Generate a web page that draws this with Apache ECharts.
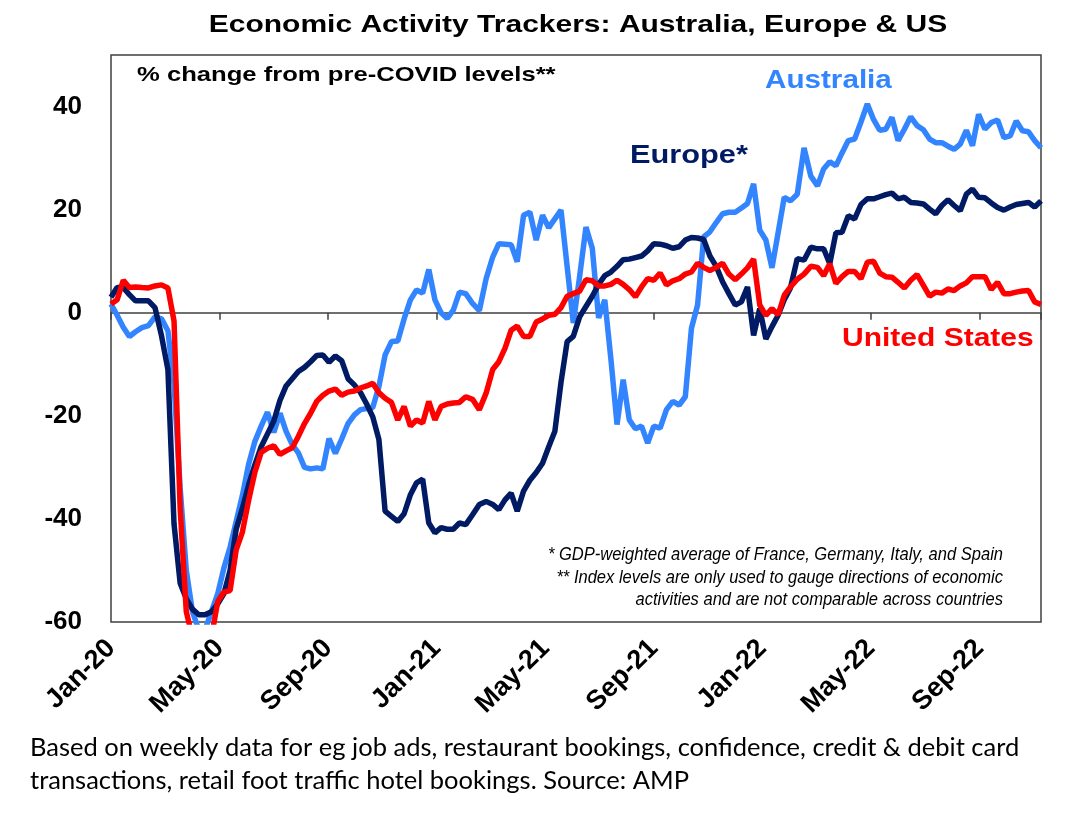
<!DOCTYPE html>
<html>
<head>
<meta charset="utf-8">
<script src="https://cdn.jsdelivr.net/npm/echarts@6/dist/echarts.min.js"></script>
<style>
  html, body { margin: 0; padding: 0; background: #fff; }
  #chart { width: 1070px; height: 816px; }
</style>
</head>
<body>
<div id="chart"></div>
<script>
// Weekly readings, first week starting 1 Jan 2020
const firstWeek = '2020-01-01';

const australia = [
  1.7, -0.5, -2.8, -4.6, -3.7, -2.9, -2.5, -0.8, -1.2, -3.5,
  -13.8, -34, -50, -58, -61.5, -61.5, -58, -54.5, -49.5, -45.5,
  -40.5, -35.5, -29.5, -25, -22, -19.3, -23.2, -19.5, -23, -25.6,
  -27.2, -30, -30.3, -30.1, -30.3, -24.4, -27.3, -24.5, -21.5, -19.8,
  -18.8, -18.6, -18.4, -14.3, -8.2, -5.6, -5.5, -1.2, 2.5, 4.4,
  3.8, 8.4, 2.5, 0, -1.1, 0.5, 4, 3.7, 1.8, 0.4,
  6.6, 10.8, 13.4, 13.3, 13.2, 9.9, 18.9, 19.5, 14.1, 18.9,
  16.5, 18.2, 19.9, 9, -2, 7, 16.6, 12.5, -1, 2.5,
  -9, -21.7, -13, -20.8, -22.5, -22, -25.3, -22, -22.4, -18.8,
  -17.2, -17.9, -16.3, -3, 1.5, 14.7, 15.7, 17.5, 19.2, 19.5,
  19.5, 20.3, 21.2, 25, 16, 14.1, 8.7, 15.5, 22.4, 21.7,
  23, 32, 26.5, 24.6, 27.9, 29.3, 28.5, 31, 33.4, 33.7,
  37, 40.5, 37.5, 35.4, 35.6, 37.9, 33.4, 35.6, 38, 36.3,
  35.5, 33.7, 33, 33, 32.3, 31.7, 32.7, 35.4, 32.4, 38.5,
  35.6, 36.9, 37.4, 34, 34.3, 37.2, 35.3, 35.1, 33.4, 32
];

const europe = [
  3, 4.9, 4.9, 3.5, 2.3, 2.3, 2.3, 1, -4.5, -11,
  -41, -52.5, -55.5, -57.5, -58.6, -58.6, -58, -56.5, -54.5, -50,
  -42, -38, -33.5, -29.5, -26, -23.5, -21, -17, -14.2, -12.8,
  -11.4, -10.6, -9.5, -8.3, -8.2, -9.6, -8.4, -9.3, -12.8, -14,
  -15.5, -17.7, -20.2, -24.6, -38.5, -39.5, -40.5, -39, -35.3, -33,
  -32.3, -40.8, -42.7, -41.7, -42, -42, -40.8, -41.1, -39.2, -37.2,
  -36.6, -37.2, -38.2, -36.3, -35, -38.5, -34.6, -32.5, -31, -29.2,
  -26, -23, -13.5, -5.6, -4.6, -0.8, 1.2, 3.2, 5.5, 7.2,
  7.9, 9, 10.3, 10.4, 10.7, 11, 12, 13.4, 13.3, 13,
  12.5, 12.8, 14.1, 14.6, 14.5, 14.2, 11, 9, 6, 3.7,
  1.5, 2.1, 5, -4.4, 0.8, -5.1, -2.7, -0.5, 2.5, 4.8,
  10.5, 10.2, 12.7, 12.4, 12.4, 9.5, 15.5, 15.6, 18.8, 18.2,
  21, 22.1, 22.1, 22.5, 22.9, 23.2, 22.1, 22.4, 21.4, 21.3,
  21.1, 20.1, 19.2, 20.8, 21.9, 20.8, 19.8, 23, 24, 22.4,
  22.3, 21.3, 20.4, 19.9, 20.5, 21, 21.2, 21.4, 20.5, 21.7
];

const unitedStates = [
  1.7, 2.5, 6.3, 4.9, 5, 4.9, 4.8, 5.2, 5.4, 4.8,
  -1.6, -38, -58, -63, -65, -65, -63, -56, -54.2, -53.9,
  -46, -42.6, -36.5, -31, -27.1, -26.3, -25.8, -27.5, -26.8, -26.2,
  -24, -21.5, -19.5, -17.2, -16, -15.2, -14.8, -16, -15.4, -15.2,
  -14.6, -14.2, -13.7, -15.5, -16.6, -17.4, -20.8, -18.2, -22, -20.8,
  -21.4, -17.2, -20.8, -18.2, -17.7, -17.5, -17.4, -16.3, -16.8, -18.8,
  -15.6, -11, -9.5, -6.9, -3.4, -2.6, -4.6, -4.6, -1.8, -1.2,
  -0.5, -0.3, 1, 3.2, 3.7, 4.2, 6.4, 6.2, 5.2, 5.2,
  5.5, 6.3, 5.5, 4.5, 3.1, 5, 6.6, 6.3, 7.7, 5.4,
  6.2, 6.6, 7.5, 7.9, 9.6, 8.8, 8.2, 8.8, 9.6, 7.5,
  6.4, 7.5, 8.7, 10.4, 1.5, -0.5, 0.8, -0.4, 3.4, 5,
  6.5, 7.5, 9, 8.8, 7.2, 9.5, 5.7, 7, 8, 8,
  6.6, 9.8, 10, 7.7, 7, 6.9, 5.9, 4.8, 6.3, 7.4,
  5.3, 3.2, 4, 3.8, 4.6, 4.3, 5.2, 5.8, 7, 7,
  7, 4.5, 5.9, 3.7, 3.7, 4, 4.2, 4.3, 2.1, 1.6
];

const monthNames = ['Jan', 'Feb', 'Mar', 'Apr', 'May', 'Jun', 'Jul', 'Aug', 'Sep', 'Oct', 'Nov', 'Dec'];
const yTicks = { min: -60, max: 50, interval: 20 };

// position of a date in months since Jan 2020
function monthPos(d) {
    const y = d.getUTCFullYear(), m = d.getUTCMonth();
    const days = new Date(Date.UTC(y, m + 1, 0)).getUTCDate();
    return (y - 2020) * 12 + m + (d.getUTCDate() - 1) / days;
}

const start = new Date(firstWeek + 'T00:00:00Z');
const weekX = australia.map((_, i) => monthPos(new Date(start.getTime() + i * 7 * 86400000)));
const pairs = arr => arr.map((v, i) => [weekX[i], v]);
const xMax = weekX[weekX.length - 1];

const font = "'Liberation Sans', Arial, sans-serif";

const chart = echarts.init(document.getElementById('chart'));

function lineSeries(name, data, color) {
    return {
        name: name,
        type: 'line',
        data: pairs(data),
        showSymbol: false,
        symbol: 'none',
        lineStyle: { color: color, width: 5.5 },
        clip: true,
        animation: false
    };
}

function label(text, x, y, size, color, opts) {
    opts = opts || {};
    return {
        type: 'text', x: x, y: y, scaleX: opts.scaleX || 1,
        style: {
            text: text, fill: color,
            font: (opts.style || 'bold') + ' ' + size + 'px ' + (opts.family || font),
            textAlign: opts.align || 'left', textVerticalAlign: 'middle'
        }
    };
}

const option = {
    backgroundColor: '#fff',
    animation: false,
    grid: {
        left: 111, right: 29, top: 55, bottom: 194,
        show: true, borderColor: '#404040', borderWidth: 1.5
    },
    xAxis: [{
        type: 'value',
        min: 0, max: xMax, interval: 4,
        axisLine: { show: false, onZero: false },
        axisTick: { show: false },
        splitLine: { show: false },
        axisLabel: {
            rotate: 45, margin: 22,
            fontFamily: font, fontWeight: 'bold', fontSize: 27, color: '#000',
            showMaxLabel: false,
            formatter: v => {
                if (Math.abs(v - Math.round(v)) > 1e-6) return '';
                const m = Math.round(v);
                return monthNames[m % 12] + '-' + (20 + Math.floor(m / 12));
            }
        }
    }, {
        type: 'value',
        position: 'top',
        min: 0, max: xMax, interval: 4,
        axisLine: { show: true, onZero: true, onZeroAxisIndex: 0, lineStyle: { color: '#404040', width: 1.5 } },
        axisTick: { show: true, inside: true, length: 7, lineStyle: { color: '#404040', width: 1.5 } },
        axisLabel: { show: false },
        splitLine: { show: false }
    }],
    yAxis: {
        type: 'value',
        min: yTicks.min, max: yTicks.max, interval: yTicks.interval,
        axisLine: { show: false },
        axisTick: { show: false },
        splitLine: { show: false },
        axisLabel: {
            margin: 29, showMaxLabel: false,
            fontFamily: font, fontWeight: 'bold', fontSize: 26, color: '#000'
        }
    },
    series: [
        lineSeries('Australia', australia, '#3385FF'),
        lineSeries('Europe*', europe, '#001A63'),
        lineSeries('United States', unitedStates, '#FF0000')
    ],
    graphic: [
        label('Economic Activity Trackers: Australia, Europe & US', 578, 25, 24, '#000', { align: 'center', scaleX: 1.25 }),
        label('% change from pre-COVID levels**', 137, 75, 21, '#000', { scaleX: 1.22 }),
        label('Australia', 765, 81, 26, '#3385FF', { scaleX: 1.14 }),
        label('Europe*', 630, 156, 25, '#001A63', { scaleX: 1.23 }),
        label('United States', 842, 339, 25, '#FF0000', { scaleX: 1.2 }),
        label('* GDP-weighted average of France, Germany, Italy, and Spain', 1003, 555, 19, '#000',
            { style: 'italic', align: 'right', scaleX: 0.87 }),
        label('** Index levels are only used to gauge directions of economic', 1003, 578, 19, '#000',
            { style: 'italic', align: 'right', scaleX: 0.87 }),
        label('activities and are not comparable across countries', 1003, 600, 19, '#000',
            { style: 'italic', align: 'right', scaleX: 0.87 }),
        label('Based on weekly data for eg job ads, restaurant bookings, confidence, credit & debit card', 30, 748, 25.5, '#000',
            { style: 'normal', family: 'Lato, sans-serif' }),
        label('transactions, retail foot traffic hotel bookings. Source: AMP', 30, 781, 25.5, '#000',
            { style: 'normal', family: 'Lato, sans-serif' })
    ]
};

chart.setOption(option);

window.addEventListener('resize', () => {
    chart.resize();
});
</script>
</body>
</html>
